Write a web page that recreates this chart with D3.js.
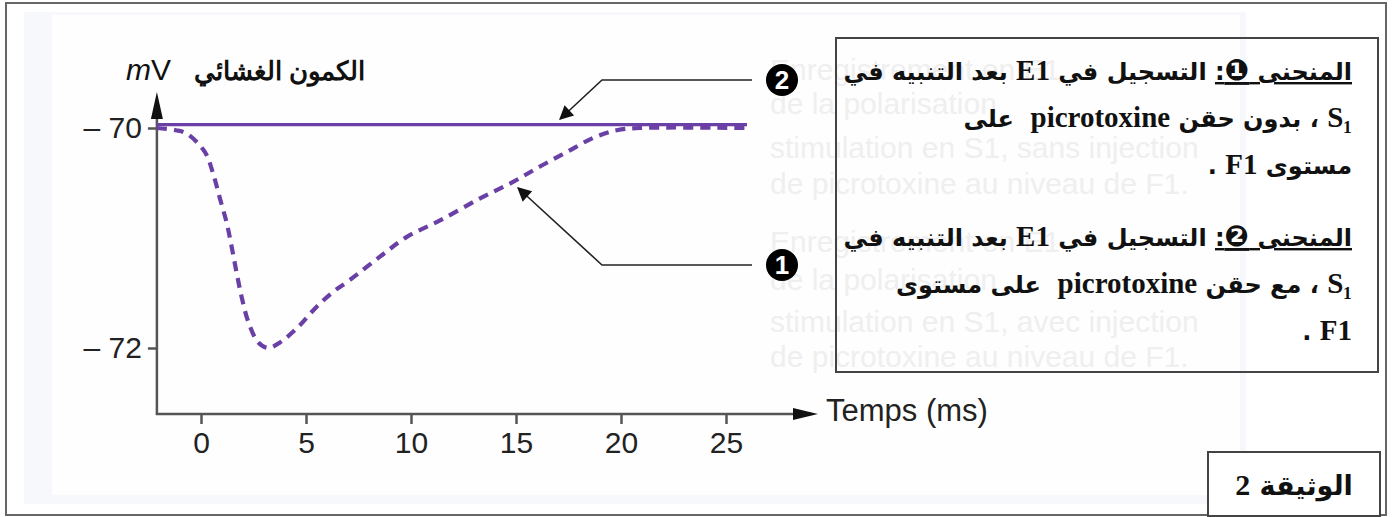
<!DOCTYPE html>
<html>
<head>
<meta charset="utf-8">
<script src="https://cdn.jsdelivr.net/npm/d3@7"></script>
<style>
  body { margin: 0; background: #fff; }
  svg text { font-family: "Liberation Sans", Arial, sans-serif; }
</style>
</head>
<body>
<div id="chart"></div>
<script>
// data
const timeTicks = [0, 5, 10, 15, 20, 25];
const mvTicks = [-70, -72];

// courbe 1 (dashed) : sans picrotoxine
const curve1T = [-2.1, -1.2, -0.68, 0.19, 0.57, 0.9, 1.22, 1.46, 1.7, 1.94, 2.25, 2.73, 3.2,
                 3.76, 4.62, 5.43, 6.29, 7.1, 8.52, 9.8, 11.38, 13.29, 14.86, 16.14, 17.41,
                 18.67, 19.8, 20.9, 26.0];
const curve1V = [-70.0, -70.02, -70.05, -70.22, -70.41, -70.64, -70.86, -71.08, -71.32, -71.54,
                 -71.76, -71.95, -72.0, -71.95, -71.81, -71.64, -71.49, -71.38, -71.17, -70.99,
                 -70.84, -70.64, -70.49, -70.35, -70.22, -70.09, -70.02, -70.0, -70.0];
// courbe 2 (solid) : avec picrotoxine
const curve2T = [-2.1, 26.0];
const curve2V = [-69.97, -69.97];

const yLabel = "الكمون الغشائي";
const xLabel = "Temps (ms)";
const legend1 = ["المنحنى ❶: التسجيل في E1 بعد التنبيه في", "S₁ ، بدون حقن picrotoxine  على", "مستوى F1 ."];
const legend2 = ["المنحنى ❷: التسجيل في E1 بعد التنبيه في", "S₁ ، مع حقن picrotoxine  على مستوى", "F1 ."];
const ghostLines = ["Enregistrement en E1", "de la polarisation", "stimulation en S1, sans injection",
                    "de picrotoxine au niveau de F1.", "Enregistrement en E1", "de la polarisation",
                    "stimulation en S1, avec injection", "de picrotoxine au niveau de F1."];

const W = 1392, H = 517;
const purple = "#6a3fa6";

const svg = d3.select("#chart").append("svg")
    .attr("width", W).attr("height", H);

// faint page background
svg.append("rect").attr("x", 24).attr("y", 12).attr("width", 1222).attr("height", 492)
    .attr("fill", "#f7f8fb");
svg.append("rect").attr("x", 52).attr("y", 15).attr("width", 1188).attr("height", 480)
    .attr("fill", "#fefefe");

// outer frame
svg.append("rect").attr("x", 6).attr("y", 3).attr("width", 1380).attr("height", 512)
    .attr("fill", "none").attr("stroke", "#666").attr("stroke-width", 2);

// ghost french text (watermark behind the legend)
svg.append("g").selectAll("text").data(ghostLines).join("text")
    .attr("x", 770)
    .attr("y", (d, i) => [80, 114, 158, 194, 252, 290, 332, 367][i])
    .attr("font-size", 30)
    .attr("fill", "#efefef")
    .text(d => d);

const x = d3.scaleLinear().domain([0, 25]).range([201, 726]);
const y = d3.scaleLinear().domain([-70, -72]).range([128, 348]);

const x0 = x(-2.1), yBase = y(-72.6);
const axisColor = "#555";

// axes
const xAxis = d3.axisBottom(x).tickValues(timeTicks).tickSize(10).tickPadding(8);
const gx = svg.append("g").attr("transform", `translate(0,${yBase})`).call(xAxis);
gx.select(".domain").remove();
gx.selectAll("line").attr("stroke", axisColor).attr("stroke-width", 2.5);
gx.selectAll("text").attr("font-size", 30).attr("fill", "#222")
    .attr("font-family", "Liberation Sans, Arial, sans-serif");

const yAxis = d3.axisLeft(y).tickValues(mvTicks).tickSize(9).tickPadding(6)
    .tickFormat(d => "– " + Math.abs(d));
const gy = svg.append("g").attr("transform", `translate(${x0},0)`).call(yAxis);
gy.select(".domain").remove();
gy.selectAll("line").attr("stroke", axisColor).attr("stroke-width", 2.5);
gy.selectAll("text").attr("font-size", 30).attr("fill", "#222")
    .attr("font-family", "Liberation Sans, Arial, sans-serif");

// axis lines with arrows
svg.append("line").attr("x1", x0).attr("y1", yBase + 1).attr("x2", x0).attr("y2", 110)
    .attr("stroke", axisColor).attr("stroke-width", 2.5);
svg.append("path").attr("d", `M${x0},92 L${x0 - 6},119 L${x0 + 6},119 Z`).attr("fill", "#111");
svg.append("line").attr("x1", x0 - 1).attr("y1", yBase).attr("x2", 800).attr("y2", yBase)
    .attr("stroke", axisColor).attr("stroke-width", 2.5);
svg.append("path").attr("d", `M818,${yBase} L793,${yBase - 6} L793,${yBase + 6} Z`).attr("fill", "#111");

// axis titles
svg.append("text").attr("x", 126).attr("y", 80).attr("font-size", 30).attr("fill", "#111")
    .html('<tspan font-style="italic">m</tspan>V');
svg.append("text").attr("x", 365).attr("y", 80).attr("font-size", 26)
    .attr("font-family", "DejaVu Sans").attr("font-weight", "bold")
    .attr("direction", "rtl").attr("text-anchor", "start").attr("fill", "#111")
    .text(yLabel);
svg.append("text").attr("x", 826).attr("y", 421).attr("font-size", 31).attr("fill", "#222")
    .text(xLabel);

// curves
const line = d3.line().x(d => x(d[0])).y(d => y(d[1])).curve(d3.curveCatmullRom);
svg.append("path").datum(d3.zip(curve2T, curve2V)).attr("d", line)
    .attr("fill", "none").attr("stroke", purple).attr("stroke-width", 3.2);
svg.append("path").datum(d3.zip(curve1T, curve1V)).attr("d", line)
    .attr("fill", "none").attr("stroke", purple).attr("stroke-width", 4.2)
    .attr("stroke-dasharray", "10,7");

// annotation arrows
const defs = svg.append("defs");
defs.append("marker").attr("id", "ah").attr("viewBox", "0 0 10 10")
    .attr("refX", 9).attr("refY", 5).attr("markerWidth", 18).attr("markerHeight", 14)
    .attr("orient", "auto").attr("markerUnits", "userSpaceOnUse")
    .append("path").attr("d", "M0,0 L10,5 L0,10 Z").attr("fill", "#111");

const callouts = [
  {label: "2", cy: 80, tip: [x(17.1), y(-70) - 9]},
  {label: "1", cy: 265, tip: [x(15.1), y(-70.5) + 5]}
];
callouts.forEach(c => {
  svg.append("path")
      .attr("d", `M752,${c.cy} L602,${c.cy} L${c.tip[0]},${c.tip[1]}`)
      .attr("fill", "none").attr("stroke", "#222").attr("stroke-width", 1.6)
      .attr("marker-end", "url(#ah)");
  svg.append("circle").attr("cx", 782).attr("cy", c.cy).attr("r", 16).attr("fill", "#000");
  svg.append("text").attr("x", 782).attr("y", c.cy + 9).attr("text-anchor", "middle")
      .attr("font-size", 26).attr("font-weight", "bold").attr("fill", "#fff").text(c.label);
});

// legend box
svg.append("rect").attr("x", 836).attr("y", 38).attr("width", 542).attr("height", 334)
    .attr("fill", "none").attr("stroke", "#444").attr("stroke-width", 2);

// latin runs in a bigger serif, arabic in DejaVu
function addRuns(parent, str) {
  str.split(/([A-Za-z0-9₁]+|[❶❷])/).filter(s => s.length).forEach(s => {
    const ts = parent.append("tspan").text(s);
    if (/[A-Za-z0-9₁]/.test(s)) ts.attr("font-size", 29).style("font-family", "'Liberation Serif', serif");
    else if (/[❶❷]/.test(s)) ts.attr("font-size", 29).style("font-family", "'DejaVu Sans'");
  });
}

function legendBlock(lines, top) {
  lines.forEach((t, i) => {
    const tx = svg.append("text").attr("x", 1352).attr("y", top + i * 47)
        .attr("direction", "rtl").attr("text-anchor", "start")
        .attr("font-size", 24).attr("font-weight", "bold").attr("fill", "#111")
        .style("white-space", "pre")
        .style("font-family", "'DejaVu Sans', 'Liberation Serif', serif");
    if (i === 0) {
      const k = t.indexOf(":") + 1;
      addRuns(tx.append("tspan").style("text-decoration", "underline"), t.slice(0, k));
      addRuns(tx, t.slice(k));
    } else {
      addRuns(tx, t);
    }
  });
}
legendBlock(legend1, 80);
legendBlock(legend2, 246);

// document tag
svg.append("rect").attr("x", 1208).attr("y", 452).attr("width", 172).attr("height", 64)
    .attr("fill", "#fff").attr("stroke", "#444").attr("stroke-width", 2);
const tag = svg.append("text").attr("x", 1294).attr("y", 495).attr("text-anchor", "middle")
    .attr("font-size", 27).attr("font-weight", "bold").attr("fill", "#111")
    .style("font-family", "'DejaVu Sans', serif");
tag.append("tspan").text("الوثيقة ");
tag.append("tspan").attr("font-size", 30).style("font-family", "'Liberation Serif', serif").text("2");
</script>
</body>
</html>
